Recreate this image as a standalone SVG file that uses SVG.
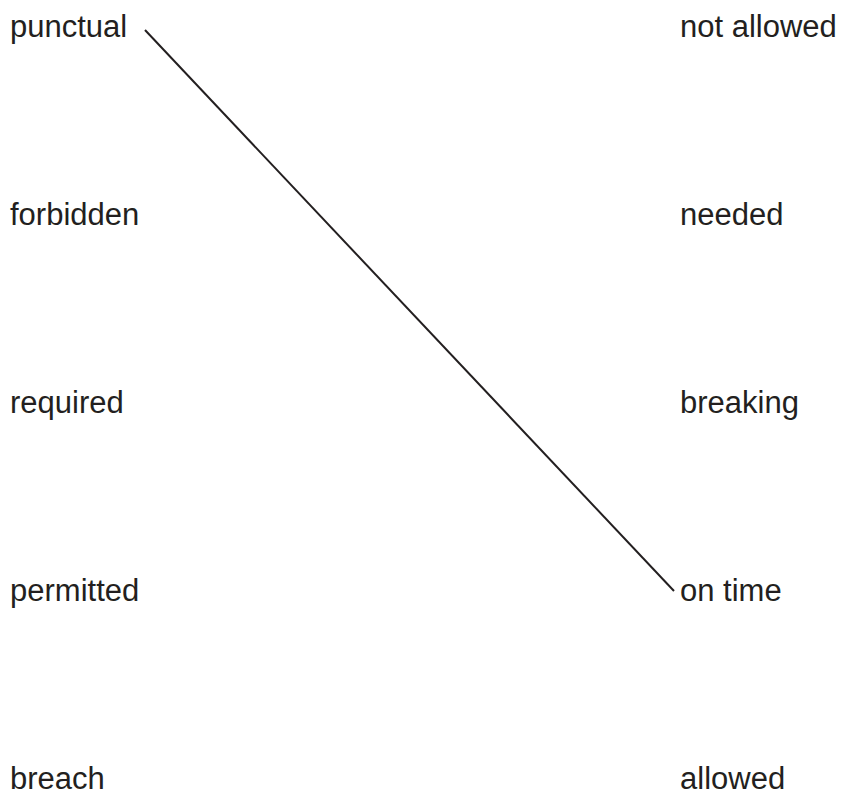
<svg xmlns="http://www.w3.org/2000/svg" width="842" height="794" viewBox="0 0 842 794">
<style>
text{font-family:"Liberation Sans",Arial,sans-serif;font-size:31px;fill:#231f20}
.c{stroke:#231f20;stroke-width:2;fill:none}
</style>
<rect width="842" height="794" fill="#fff"/>
<g id="l1"><text x="10" y="37">punctual</text></g>
<g id="l2"><text x="10" y="225">forbidden</text></g>
<g id="l3"><text x="10" y="413">required</text></g>
<g id="l4"><text x="10" y="601">permitted</text></g>
<g id="l5"><text x="10" y="789">breach</text></g>
<g id="r1"><text x="680" y="37">not allowed</text></g>
<g id="r2"><text x="680" y="225">needed</text></g>
<g id="r3"><text x="680" y="413">breaking</text></g>
<g id="r4"><text x="680" y="601">on time</text></g>
<g id="r5"><text x="680" y="789">allowed</text></g>
<g id="connectors"><line class="c" x1="145" y1="30" x2="674" y2="591"/></g>
</svg>
